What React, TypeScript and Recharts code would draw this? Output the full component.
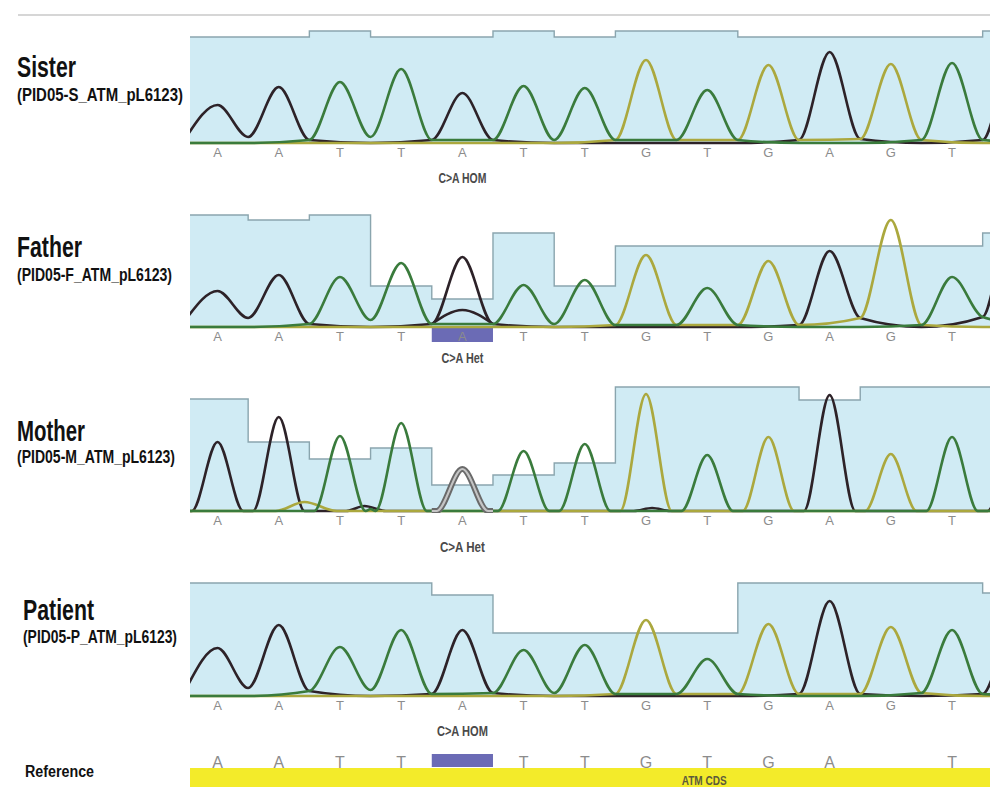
import { Area, ComposedChart, Line, ReferenceArea, ReferenceDot, XAxis, YAxis } from "recharts";

// called bases of the amplicon; index 13 is the next base, cut at the right edge
const bases = ["A", "A", "T", "T", "A", "T", "T", "G", "T", "G", "A", "G", "T", "A"];
const baseTicks = [0, 1, 2, 3, 4, 5, 6, 7, 8, 9, 10, 11, 12];
const refLetters = ["A", "A", "T", "T", "", "T", "T", "G", "T", "G", "A", "", "T"];
const variantIndex = 4;

const panelNames = ["Sister", "Father", "Mother", "Patient", "Reference"];
const sampleIds = ["(PID05-S_ATM_pL6123)", "(PID05-F_ATM_pL6123)", "(PID05-M_ATM_pL6123)", "(PID05-P_ATM_pL6123)"];
const calls = ["C>A HOM", "C>A Het", "C>A Het", "C>A HOM"];

// peak heights per base, trough heights at each base boundary (k - 0.5), quality bar per base
const sisterPeaks = [38, 56, 61, 74, 50, 57, 55, 83, 53, 78, 91, 79, 80, 88];
const sisterTroughs = [7, 6, 3, 6, 3, 3, 3, 3, 3, 3, 3, 4, 3, 3];
const sisterQual = [106, 106, 112, 106, 106, 112, 106, 112, 112, 106, 106, 106, 106, 112];

const fatherPeaks = [36, 52, 50, 64, 70, 42, 47, 72, 39, 66, 76, 107, 50, 115];
const fatherTroughs = [9, 9, 3, 7, 3, 3, 3, 2, 2, 2, 2, 9, 2, 10];
const fatherQual = [112, 107, 112, 41, 28, 94, 41, 81, 81, 81, 81, 81, 81, 94];
const fatherHet = 17;

const motherPeaks = [69, 94, 75, 88, 42, 60, 67, 117, 56, 74, 116, 57, 74, 60];
const motherTroughs = [0, 0, 0, 2, 0, 0, 0, 0, 0, 0, 0, 0, 0, 0];
const motherQual = [112, 69, 52, 63, 26, 36, 48, 124, 124, 124, 111, 124, 124, 124];
const motherHet = 42;
const motherBumps = [
  { ch: "G", x: 1.42, h: 9, from: 0.95, to: 1.95 },
  { ch: "A", x: 2.4, h: 5, from: 2.1, to: 2.75 },
  { ch: "A", x: 7.1, h: 3, from: 6.8, to: 7.4 },
];

const patientPeaks = [48, 71, 49, 66, 66, 46, 51, 76, 37, 72, 95, 69, 66, 70];
const patientTroughs = [9, 8, 5, 6, 2, 3, 3, 2, 2, 2, 2, 2, 3, 2];
const patientQual = [113, 113, 113, 113, 101, 63, 63, 63, 63, 113, 113, 113, 113, 103];

const cds = [{ x: -0.45, v: 19 }, { x: 12.62, v: 19 }];

const SANS = "'Liberation Sans', Arial, sans-serif";
const NARROW = "'Liberation Sans Narrow', 'Arial Narrow', 'Liberation Sans', Arial, sans-serif";
const COLORS: Record<string, string> = { A: "#2d2228", G: "#aba83e", T: "#3a7b3c" };
const DOMAIN: [number, number] = [-0.45, 12.62];

type Pt = { x: number; v: number };
type Bump = { ch: string; x: number; h: number; from: number; to: number };

function channelPoints(ch: string, peaks: number[], troughs: number[], foot: number, bumps: Bump[]): Pt[] {
  let pts: Pt[] = [];
  bases.forEach((b, k) => {
    const near = bases[k - 1] === ch || b === ch;
    pts.push({ x: k - 0.5, v: near ? troughs[k] : 0 });
    if (b === ch) {
      if (foot) pts.push({ x: k - foot, v: 0 });
      pts.push({ x: k, v: peaks[k] });
      if (foot) pts.push({ x: k + foot, v: 0 });
    }
  });
  pts.push({ x: bases.length - 0.5, v: 0 });
  bumps
    .filter((m) => m.ch === ch)
    .forEach((m) => {
      pts = pts.filter((p) => p.x <= m.from || p.x >= m.to);
      pts.push({ x: m.from, v: 0 }, { x: m.x, v: m.h }, { x: m.to, v: 0 });
    });
  return pts.sort((a, b) => a.x - b.x);
}

function hetPoints(h: number, troughs: number[], foot: number): Pt[] {
  const k = variantIndex;
  const pts: Pt[] = [{ x: k - 0.5, v: troughs[k] }];
  if (foot) pts.push({ x: k - foot, v: 0 });
  pts.push({ x: k, v: h });
  if (foot) pts.push({ x: k + foot, v: 0 });
  pts.push({ x: k + 0.5, v: troughs[k + 1] });
  return pts;
}

function qualPoints(qual: number[]): Pt[] {
  const pts = qual.map((q, k) => ({ x: k - 0.5, v: q }));
  pts.push({ x: qual.length - 0.5, v: qual[qual.length - 1] });
  return pts;
}

const tagLabel = (text: string, w: number, size = 15, fill = "#4a4a4a") => (props: any) => {
  const vb = props.viewBox || {};
  const cx = (vb.x ?? 0) + (vb.width ?? 0) / 2;
  const cy = (vb.y ?? 0) + (vb.height ?? 0) / 2;
  return (
    <text x={cx} y={cy} textAnchor="middle" dominantBaseline="central" fontFamily={NARROW} fontWeight="bold"
      fontSize={size} fill={fill} textLength={w} lengthAdjust="spacingAndGlyphs">
      {text}
    </text>
  );
};

type TraceProps = {
  top: number;
  peaks: number[];
  troughs: number[];
  qual: number[];
  foot?: number;
  bumps?: Bump[];
  het?: number;
  grayHet?: boolean;
  bar?: boolean;
  tag: string;
  tagY: number;
  tagW: number;
};

function Trace({ top, peaks, troughs, qual, foot = 0, bumps = [], het, grayHet, bar, tag, tagY, tagW }: TraceProps) {
  const common = { type: "monotone" as const, dataKey: "v", dot: false, activeDot: false, isAnimationActive: false };
  return (
    <div style={{ position: "absolute", left: 0, top }}>
      <ComposedChart width={990} height={170} margin={{ top: 0, right: 0, bottom: 0, left: 190 }}>
        <XAxis type="number" dataKey="x" domain={DOMAIN} allowDataOverflow ticks={baseTicks} interval={0}
          tickFormatter={(v: number) => bases[v]} axisLine={false} tickLine={false} tickSize={0} tickMargin={3}
          height={40} tick={{ fill: "#8c8c8c", fontSize: 13, fontFamily: NARROW }} />
        <YAxis type="number" domain={[-2, 128]} allowDataOverflow hide />
        <Area data={qualPoints(qual)} dataKey="v" type="stepAfter" baseValue={0} fill="#d0ebf4" fillOpacity={1}
          stroke="#8aa5ae" strokeWidth={1.4} isAnimationActive={false} dot={false} activeDot={false} />
        {bar && (
          <ReferenceArea x1={variantIndex - 0.5} x2={variantIndex + 0.5} y1={-15} y2={0} ifOverflow="visible"
            fill="#6b6bb5" fillOpacity={1} stroke="none" />
        )}
        {het !== undefined && !grayHet && (
          <Line {...common} data={hetPoints(het, troughs, foot)} stroke={COLORS.A} strokeWidth={2.6} />
        )}
        <Line {...common} data={channelPoints("A", peaks, troughs, foot, bumps)} stroke={COLORS.A} strokeWidth={2.6} />
        <Line {...common} data={channelPoints("G", peaks, troughs, foot, bumps)} stroke={COLORS.G} strokeWidth={2.6} />
        <Line {...common} data={channelPoints("T", peaks, troughs, foot, bumps)} stroke={COLORS.T} strokeWidth={2.6} />
        {het !== undefined && grayHet && (
          <Line {...common} data={hetPoints(het, troughs, foot)} stroke="#6a6a6a" strokeWidth={6} />
        )}
        {het !== undefined && grayHet && (
          <Line {...common} data={hetPoints(het, troughs, foot)} stroke="#c4c4c4" strokeWidth={2} />
        )}
        <ReferenceDot x={variantIndex} y={tagY} r={0} ifOverflow="visible" label={tagLabel(tag, tagW)} />
      </ComposedChart>
    </div>
  );
}

function Title({ x, y, w, text, size = 29 }: { x: number; y: number; w: number; text: string; size?: number }) {
  return (
    <text x={x} y={y} fontFamily={SANS} fontWeight="bold" fontSize={size} fill="#111" textLength={w}
      lengthAdjust="spacingAndGlyphs">
      {text}
    </text>
  );
}

export default function App() {
  return (
    <div style={{ position: "absolute", left: 0, top: 0, width: 990, height: 787, background: "#fff", overflow: "hidden" }}>
      <svg width={990} height={787} style={{ position: "absolute", left: 0, top: 0 }}>
        <line x1={18} x2={990} y1={15} y2={15} stroke="#c8c8c8" strokeWidth={1.5} />
        <Title x={17} y={77} w={59} text={panelNames[0]} />
        <Title x={17} y={101} w={166} size={18} text={sampleIds[0]} />
        <Title x={17} y={257} w={65} text={panelNames[1]} />
        <Title x={17} y={281} w={155} size={18} text={sampleIds[1]} />
        <Title x={17} y={441} w={68} text={panelNames[2]} />
        <Title x={17} y={463} w={158} size={18} text={sampleIds[2]} />
        <Title x={23} y={620} w={71} text={panelNames[3]} />
        <Title x={23} y={643} w={154} size={18} text={sampleIds[3]} />
        <Title x={25} y={777} w={69} size={16} text={panelNames[4]} />
      </svg>

      <Trace top={15} peaks={sisterPeaks} troughs={sisterTroughs} qual={sisterQual} tag={calls[0]} tagY={-34} tagW={48} />
      <Trace top={199} peaks={fatherPeaks} troughs={fatherTroughs} qual={fatherQual} het={fatherHet} bar
        tag={calls[1]} tagY={-30} tagW={42} />
      <Trace top={383} peaks={motherPeaks} troughs={motherTroughs} qual={motherQual} foot={0.42} bumps={motherBumps}
        het={motherHet} grayHet tag={calls[2]} tagY={-35} tagW={45} />
      <Trace top={568} peaks={patientPeaks} troughs={patientTroughs} qual={patientQual} tag={calls[3]} tagY={-34}
        tagW={51} />

      <div style={{ position: "absolute", left: 0, top: 728 }}>
        <ComposedChart width={990} height={59} margin={{ top: 0, right: 0, bottom: 0, left: 190 }}>
          <XAxis orientation="top" type="number" dataKey="x" domain={DOMAIN} allowDataOverflow ticks={baseTicks}
            interval={0} tickFormatter={(v: number) => refLetters[v]} axisLine={false} tickLine={false} tickSize={0}
            tickMargin={0} height={40} tick={{ fill: "#8c8c8c", fontSize: 16, fontFamily: NARROW }} />
          <YAxis type="number" domain={[0, 19]} allowDataOverflow hide />
          <Area data={cds} dataKey="v" type="linear" baseValue={0} fill="#f3eb2a" fillOpacity={1} stroke="none"
            isAnimationActive={false} dot={false} activeDot={false} />
          <ReferenceArea x1={variantIndex - 0.5} x2={variantIndex + 0.5} y1={20} y2={33} ifOverflow="visible"
            fill="#6b6bb5" fillOpacity={1} stroke="none" />
          <ReferenceDot x={7.95} y={6.5} r={0} ifOverflow="visible" label={tagLabel("ATM CDS", 45, 12, "#5c5a3c")} />
        </ComposedChart>
      </div>
    </div>
  );
}
